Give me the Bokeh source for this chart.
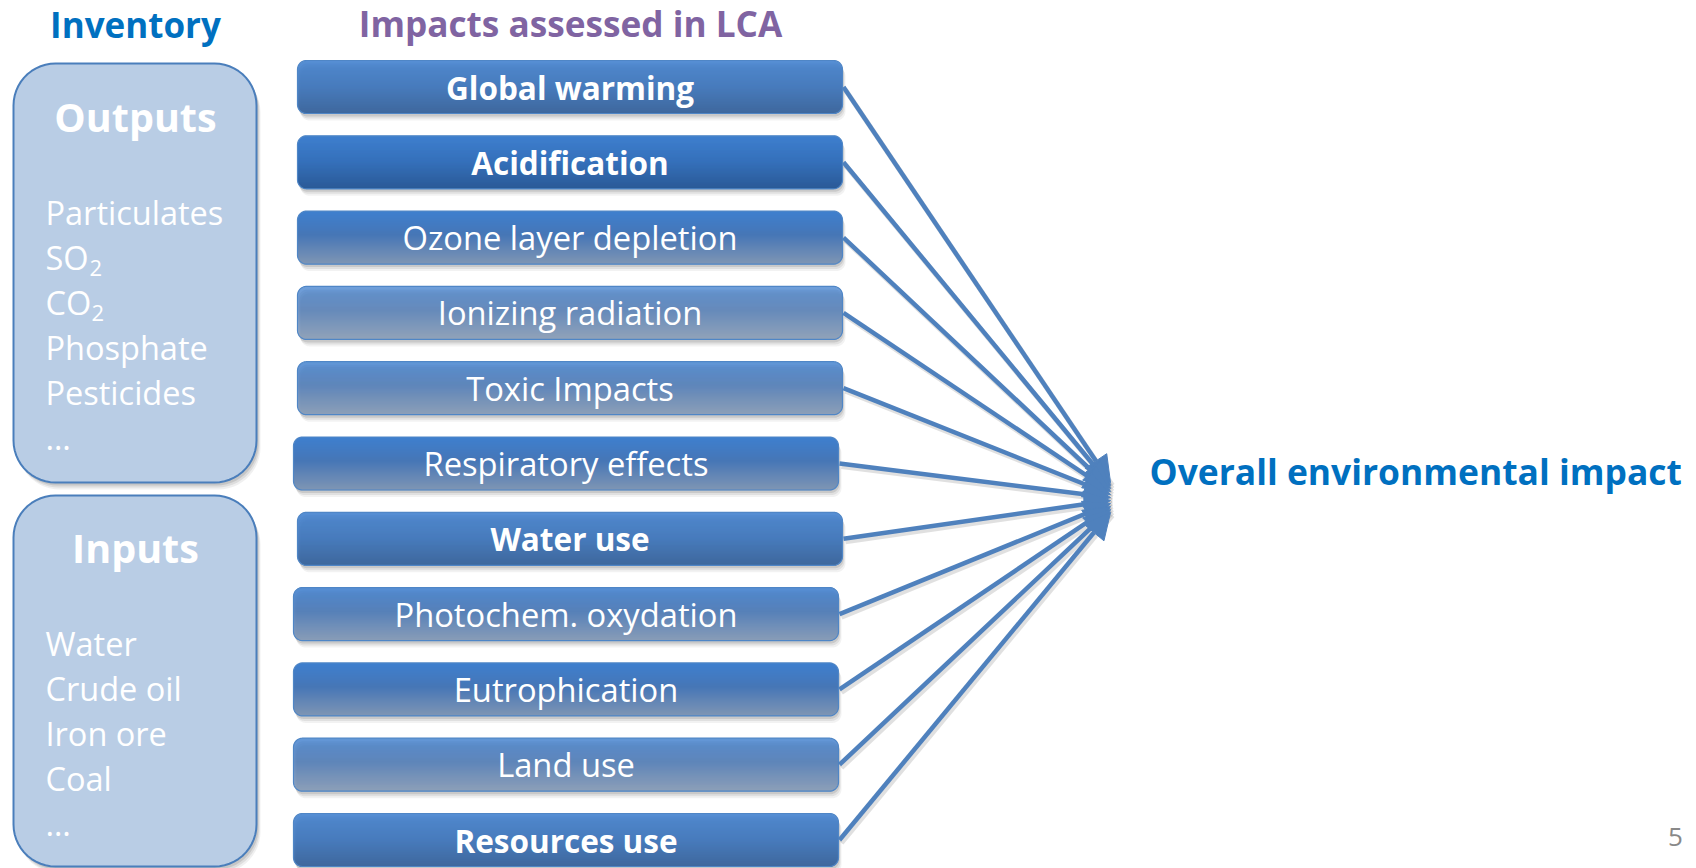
import numpy as np
from bokeh.plotting import figure
from bokeh.models import Range1d, ColumnDataSource, Arrow, NormalHead
from bokeh.core.properties import value
from bokeh.embed import file_html
from bokeh.resources import INLINE

# ---------------- data ----------------
title_inventory = "Inventory"
title_impacts = "Impacts assessed in LCA"
title_overall = "Overall environmental impact"
page_number = "5"

output_title = "Outputs"
output_items = ["Particulates", "SO", "CO", "Phosphate", "Pesticides", "…"]
output_subscripts = ["", "2", "2", "", "", ""]

input_title = "Inputs"
input_items = ["Water", "Crude oil", "Iron ore", "Coal", "…"]

impact_categories = ["Global warming", "Acidification", "Ozone layer depletion",
                     "Ionizing radiation", "Toxic Impacts", "Respiratory effects",
                     "Water use", "Photochem. oxydation", "Eutrophication",
                     "Land use", "Resources use"]
impact_bold = [True, True, False, False, False, False, True, False, False, False, True]
impact_shift = [0, 0, 0, 0, 0, -4, 0, -4, -4, -4, -4]

FONT = value("Open Sans")
W, H = 1696, 868

# ---------------- figure (coordinates = page pixels) ----------------
p = figure(width=W, height=H, output_backend="svg", toolbar_location=None,
           x_range=Range1d(0, W), y_range=Range1d(H, 0),
           min_border=0, x_axis_location=None, y_axis_location=None)
p.grid.visible = False
p.outline_line_color = None
p.background_fill_color = "white"
p.border_fill_color = "white"


def rounded_poly(x0, y0, x1, y1, r, n=14):
    xs, ys = [], []
    corners = [((x0 + r, y0 + r), np.pi, 1.5 * np.pi),
               ((x1 - r, y0 + r), 1.5 * np.pi, 2 * np.pi),
               ((x1 - r, y1 - r), 0.0, 0.5 * np.pi),
               ((x0 + r, y1 - r), 0.5 * np.pi, np.pi)]
    for (cx, cy), a0, a1 in corners:
        a = np.linspace(a0, a1, n)
        xs.extend(cx + r * np.cos(a))
        ys.extend(cy + r * np.sin(a))
    return xs, ys


def hex2rgb(h):
    h = h.lstrip("#")
    return np.array([int(h[i:i + 2], 16) for i in (0, 2, 4)], dtype=float)


def lerp_hex(c0, c1, t):
    c = hex2rgb(c0) * (1 - t) + hex2rgb(c1) * t
    return "#%02x%02x%02x" % tuple(int(round(v)) for v in c)


# ---------------- inventory boxes ----------------
def inventory_box(y0, y1):
    for dx, dy, a in [(2, 3, 0.10), (3, 5, 0.08), (4, 7, 0.06)]:
        xs, ys = rounded_poly(13 + dx, y0 + dy, 256 + dx, y1 + dy, 42)
        p.patch(xs, ys, fill_color="black", fill_alpha=a, line_color=None)
    xs, ys = rounded_poly(13, y0, 256, y1, 42)
    p.patch(xs, ys, fill_color="#B9CDE5", line_color="#4A7EBB", line_width=2)


inventory_box(63, 482)
inventory_box(495, 866)

p.text(x=[135], y=[116], text=[output_title], text_font=FONT, text_font_style="bold",
       text_font_size="39.5px", text_color="white", text_align="center",
       text_baseline="middle")
p.text(x=[135], y=[547], text=[input_title], text_font=FONT, text_font_style="bold",
       text_font_size="39.5px", text_color="white", text_align="center",
       text_baseline="middle")

ITEM_FS = 32.5
out_c = 212 + 45 * np.arange(len(output_items))
p.text(x=[45] * len(output_items), y=list(out_c), text=output_items, text_font=FONT,
       text_font_size=f"{ITEM_FS}px", text_color="white", text_align="left",
       text_baseline="middle")
sub_x, sub_y, sub_t = [], [], []
for i, s in enumerate(output_subscripts):
    if s:
        sub_x.append(45 + (44 if output_items[i] == "SO" else 46))
        sub_y.append(out_c[i] + 10)
        sub_t.append(s)
p.text(x=sub_x, y=sub_y, text=sub_t, text_font=FONT, text_font_size="22px",
       text_color="white", text_align="left", text_baseline="middle")

in_c = 643 + 45 * np.arange(len(input_items))
p.text(x=[45] * len(input_items), y=list(in_c), text=input_items, text_font=FONT,
       text_font_size=f"{ITEM_FS}px", text_color="white", text_align="left",
       text_baseline="middle")

# ---------------- impact boxes ----------------
BOX_TOP0, PITCH, BOX_H = 60.0, 75.3, 53.0
BOX_X0, BOX_X1, RAD = 297.0, 842.0, 9.0

tops = BOX_TOP0 + PITCH * np.arange(len(impact_categories))
lefts = BOX_X0 + np.array(impact_shift, dtype=float)
rights = BOX_X1 + np.array(impact_shift, dtype=float)

ql, qr, qt, qb, qc = [], [], [], [], []
for i in range(len(impact_categories)):
    y0, x0, x1 = tops[i], lefts[i], rights[i]
    y1 = y0 + BOX_H
    for dx, dy, a in [(1, 3, 0.10), (2, 5, 0.07), (3, 7, 0.05)]:
        xs, ys = rounded_poly(x0 + dx, y0 + dy, x1 + dx, y1 + dy, RAD)
        p.patch(xs, ys, fill_color="black", fill_alpha=a, line_color=None)
    if impact_bold[i]:
        stops = [(0.0, "#3E7FCE"), (0.5, "#3570BA"), (1.0, "#2B5A97")]
    else:
        stops = [(0.0, "#3E7FCE"), (0.45, "#4676B6"), (1.0, "#7E95B4")]
    nrow = int(BOX_H)
    for j in range(nrow):
        yy = y0 + j + 0.5
        d = min(yy - y0, y1 - yy)
        inset = RAD - np.sqrt(max(RAD ** 2 - (RAD - d) ** 2, 0.0)) if d < RAD else 0.0
        t = j / (nrow - 1)
        col = stops[-1][1]
        for (t0, c0), (t1, c1) in zip(stops[:-1], stops[1:]):
            if t0 <= t <= t1:
                col = lerp_hex(c0, c1, (t - t0) / (t1 - t0))
                break
        ql.append(x0 + inset)
        qr.append(x1 - inset)
        qt.append(y0 + j)
        qb.append(y0 + j + 1.15)
        qc.append(col)

p.quad(left=ql, right=qr, top=qt, bottom=qb, fill_color=qc, line_color=None)

for i in range(len(impact_categories)):
    xs, ys = rounded_poly(lefts[i], tops[i], rights[i], tops[i] + BOX_H, RAD)
    p.patch(xs, ys, fill_color=None, fill_alpha=0, line_color="#4F86C6", line_width=1.2)

cx = (lefts + rights) / 2
cy = tops + BOX_H / 2
bold_idx = [i for i, b in enumerate(impact_bold) if b]
reg_idx = [i for i, b in enumerate(impact_bold) if not b]
p.text(x=list(cx[bold_idx]), y=list(cy[bold_idx]),
       text=[impact_categories[i] for i in bold_idx], text_font=FONT,
       text_font_style="bold", text_font_size="31.5px", text_color="white",
       text_align="center", text_baseline="middle")
p.text(x=list(cx[reg_idx]), y=list(cy[reg_idx]),
       text=[impact_categories[i] for i in reg_idx], text_font=FONT,
       text_font_size="32.7px", text_color="white",
       text_align="center", text_baseline="middle")

# ---------------- arrows ----------------
TIP_X, TIP_Y = 1110.0, 497.0
n = len(impact_categories)
sx = list(rights + 1)
sy = list(tops + BOX_H / 2)
ex = [TIP_X] * n
ey = list(TIP_Y + (np.arange(n) - (n - 1) / 2) * 3.0)
shadow_src = ColumnDataSource(dict(x0=[x + 2 for x in sx], y0=[y + 3 for y in sy],
                                   x1=[x + 2 for x in ex], y1=[y + 3 for y in ey]))
p.segment(x0="x0", y0="y0", x1="x1", y1="y1", source=shadow_src,
          line_color="black", line_alpha=0.12, line_width=5)
arrow_src = ColumnDataSource(dict(x0=sx, y0=sy, x1=ex, y1=ey))
p.add_layout(Arrow(source=arrow_src, x_start="x0", y_start="y0", x_end="x1", y_end="y1",
                   line_color="#4F81BD", line_width=4.5,
                   end=NormalHead(size=26, fill_color="#4F81BD", line_color="#4F81BD",
                                  line_width=1)))

# ---------------- titles ----------------
p.text(x=[135], y=[24], text=[title_inventory], text_font=FONT, text_font_style="bold",
       text_font_size="35px", text_color="#0070C0", text_align="center",
       text_baseline="middle")
p.text(x=[570], y=[22], text=[title_impacts], text_font=FONT, text_font_style="bold",
       text_font_size="35.2px", text_color="#8064A2", text_align="center",
       text_baseline="middle")
p.text(x=[1149], y=[470], text=[title_overall], text_font=FONT, text_font_style="bold",
       text_font_size="35.4px", text_color="#0070C0", text_align="left",
       text_baseline="middle")
p.text(x=[1675], y=[836], text=[page_number], text_font=FONT,
       text_font_size="26px", text_color="#898989", text_align="center",
       text_baseline="middle")

open("out.html", "w").write(file_html(p, INLINE))
